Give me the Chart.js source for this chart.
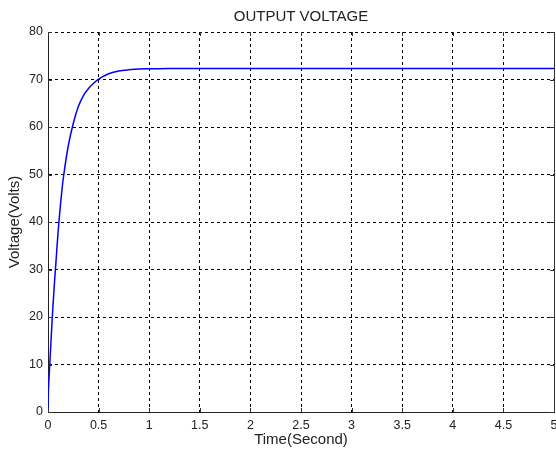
<!DOCTYPE html>
<html>
<head>
<meta charset="utf-8">
<script src="https://cdn.jsdelivr.net/npm/chart.js@4/dist/chart.umd.min.js"></script>
<style>
  html, body { margin: 0; padding: 0; background: #fff; }
  #wrap { width: 556px; height: 452px; }
</style>
</head>
<body>
<div id="wrap"><canvas id="voltageChart"></canvas></div>
<script>
// Dados
const timeValues = [0, 0.005, 0.02, 0.04, 0.06, 0.08, 0.1, 0.125, 0.15, 0.2, 0.25, 0.3, 0.35, 0.4, 0.45, 0.5, 0.6, 0.7, 0.8, 0.9, 1.0, 1.2, 1.7, 5];
const voltageValues = [0, 5, 11, 19, 26, 32, 38, 44, 49, 56, 60.8, 64.3, 66.6, 68.1, 69.2, 70.1, 71.2, 71.8, 72.05, 72.2, 72.25, 72.3, 72.3, 72.3];
const xTicks = [0, 0.5, 1, 1.5, 2, 2.5, 3, 3.5, 4, 4.5, 5];
const yTicks = [0, 10, 20, 30, 40, 50, 60, 70, 80];

const fontFamily = "'Liberation Sans', Arial, sans-serif";
const textColor = "#222";

// Borda direita sólida e marcas internas (estilo MATLAB)
const matlabFrame = {
  id: "matlabFrame",
  afterDraw(chart) {
    const { ctx, chartArea, scales } = chart;
    const tick = 4;
    ctx.save();
    ctx.strokeStyle = "#333";
    ctx.lineWidth = 1;
    ctx.beginPath();
    ctx.moveTo(chartArea.right + 0.5, chartArea.top);
    ctx.lineTo(chartArea.right + 0.5, chartArea.bottom);
    xTicks.forEach((v) => {
      const px = Math.round(scales.x.getPixelForValue(v)) + 0.5;
      ctx.moveTo(px, chartArea.bottom);
      ctx.lineTo(px, chartArea.bottom - tick);
      ctx.moveTo(px, chartArea.top);
      ctx.lineTo(px, chartArea.top + tick);
    });
    yTicks.forEach((v) => {
      const py = Math.round(scales.y.getPixelForValue(v)) + 0.5;
      ctx.moveTo(chartArea.left, py);
      ctx.lineTo(chartArea.left + tick, py);
      ctx.moveTo(chartArea.right, py);
      ctx.lineTo(chartArea.right - tick, py);
    });
    ctx.stroke();
    ctx.restore();
  },
};

new Chart(document.getElementById("voltageChart"), {
  type: "line",
  data: {
    datasets: [
      {
        data: timeValues.map((t, i) => ({ x: t, y: voltageValues[i] })),
        borderColor: "#0000ff",
        borderWidth: 1.5,
        pointRadius: 0,
        tension: 0.3,
        fill: false,
      },
    ],
  },
  options: {
    responsive: true,
    maintainAspectRatio: false,
    animation: false,
    layout: { padding: { left: 0, right: 2, top: 0, bottom: 0 } },
    plugins: {
      legend: { display: false },
      tooltip: { enabled: false },
    },
    scales: {
      // eixo superior só para o título, centrado na área do gráfico
      top: {
        type: "linear",
        position: "top",
        min: 0,
        max: 5,
        afterFit: (scale) => {
          scale.height = 32;
          scale.paddingLeft = 0;
          scale.paddingRight = 0;
        },
        ticks: { display: false },
        grid: { display: false },
        border: { display: false },
        title: {
          display: true,
          text: "OUTPUT VOLTAGE",
          color: textColor,
          font: { family: fontFamily, size: 15 },
          padding: { top: 8, bottom: 0 },
        },
      },
      x: {
        type: "linear",
        min: 0,
        max: 5,
        afterBuildTicks: (scale) => {
          scale.ticks = xTicks.map((v) => ({ value: v }));
        },
        afterFit: (scale) => {
          scale.height = 40;
          scale.paddingLeft = 0;
          scale.paddingRight = 0;
        },
        ticks: {
          color: textColor,
          font: { family: fontFamily, size: 12.5 },
          padding: 6,
          maxRotation: 0,
          autoSkip: false,
          callback: (v) => String(v),
        },
        grid: { color: "#000", drawTicks: false, lineWidth: 1 },
        border: { color: "#222", dash: [3, 3] },
        title: {
          display: true,
          text: "Time(Second)",
          color: textColor,
          font: { family: fontFamily, size: 15 },
          padding: { top: 0, bottom: 3 },
        },
      },
      y: {
        min: 0,
        max: 80,
        afterBuildTicks: (scale) => {
          scale.ticks = yTicks.map((v) => ({ value: v }));
        },
        afterFit: (scale) => {
          scale.width = 48;
          scale.paddingTop = 0;
          scale.paddingBottom = 0;
        },
        ticks: {
          color: textColor,
          font: { family: fontFamily, size: 12.5 },
          padding: 5,
          callback: (v) => String(v),
        },
        grid: { color: "#000", drawTicks: false, lineWidth: 1 },
        border: { color: "#222", dash: [3, 3] },
        title: {
          display: true,
          text: "Voltage(Volts)",
          color: textColor,
          font: { family: fontFamily, size: 15 },
          padding: { top: 5.5, bottom: 0 },
        },
      },
    },
  },
  plugins: [matlabFrame],
});
</script>
</body>
</html>
